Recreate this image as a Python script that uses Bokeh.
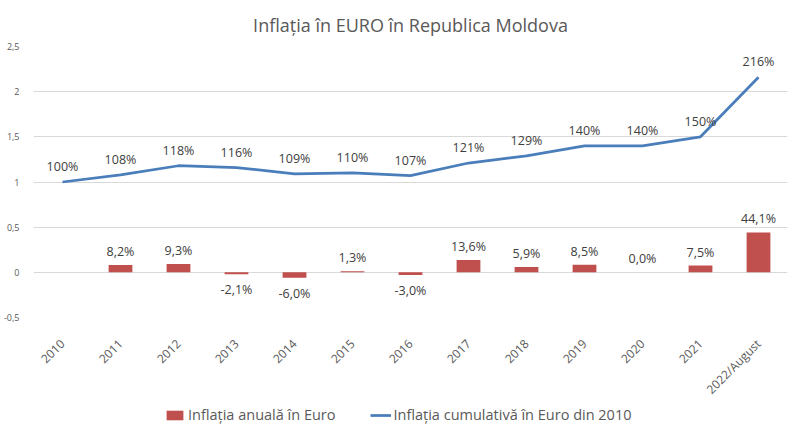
import math
from bokeh.plotting import figure
from bokeh.layouts import column
from bokeh.models import (ColumnDataSource, FactorRange, Range1d, LabelSet, Legend, LegendItem,
                          Title, FixedTicker, CustomJSTickFormatter)
from bokeh.core.properties import value
from bokeh.embed import file_html
from bokeh.resources import INLINE

# ---- data ----
years = ["2010", "2011", "2012", "2013", "2014", "2015", "2016", "2017", "2018",
         "2019", "2020", "2021", "2022/August"]
annual_years = years[1:]
annual = [0.082, 0.093, -0.021, -0.060, 0.013, -0.030, 0.136, 0.059, 0.085, 0.000, 0.075, 0.441]
annual_labels = ["8,2%", "9,3%", "-2,1%", "-6,0%", "1,3%", "-3,0%", "13,6%", "5,9%", "8,5%",
                 "0,0%", "7,5%", "44,1%"]
cumulative = [1.00, 1.08, 1.18, 1.16, 1.09, 1.10, 1.07, 1.21, 1.29, 1.40, 1.40, 1.50, 2.16]
cumulative_labels = ["100%", "108%", "118%", "116%", "109%", "110%", "107%", "121%", "129%",
                     "140%", "140%", "150%", "216%"]
series_names = ["Inflația anuală în Euro", "Inflația cumulativă în Euro din 2010"]
y_ticks = [-0.5, 0, 0.5, 1, 1.5, 2, 2.5]

FONT = "Open Sans"
TXT = "#404040"
BAR = "#C0504D"
LINE = "#4A7EBB"
GRID = "#D9D9D9"

p = figure(frame_width=754, frame_height=271, x_range=FactorRange(*years, range_padding=0),
           y_range=Range1d(-0.5, 2.5), output_backend="svg", toolbar_location=None,
           min_border_left=33, min_border_right=13, min_border_top=10, min_border_bottom=0)
p.outline_line_color = None
p.background_fill_color = "white"

title = Title(text="Inflația în EURO în Republica Moldova", align="center",
              text_font=FONT, text_font_size="18px", text_font_style="normal",
              text_color="#595959", standoff=20)
p.add_layout(title, "above")

# bars
pos = [i for i, v in enumerate(annual) if v >= 0]
neg = [i for i, v in enumerate(annual) if v < 0]
bsrc = ColumnDataSource(dict(x=annual_years, top=annual))
bars = p.vbar(x="x", top="top", bottom=0, width=0.41, source=bsrc, fill_color=BAR, line_color=None)

psrc = ColumnDataSource(dict(x=[annual_years[i] for i in pos], y=[annual[i] for i in pos],
                             t=[annual_labels[i] for i in pos]))
nsrc = ColumnDataSource(dict(x=[annual_years[i] for i in neg], y=[annual[i] for i in neg],
                             t=[annual_labels[i] for i in neg]))
lab_kw = dict(text_align="center", text_font=value(FONT), text_font_size=value("12.5px"),
              text_color=TXT)
p.add_layout(LabelSet(x="x", y="y", text="t", source=psrc, y_offset=5,
                      text_baseline="bottom", **lab_kw))
p.add_layout(LabelSet(x="x", y="y", text="t", source=nsrc, y_offset=-7,
                      text_baseline="top", **lab_kw))

# line
lsrc = ColumnDataSource(dict(x=years, y=cumulative, t=cumulative_labels))
line = p.line(x="x", y="y", source=lsrc, line_color=LINE, line_width=2.75)
p.add_layout(LabelSet(x="x", y="y", text="t", source=lsrc, y_offset=7,
                      text_baseline="bottom", **lab_kw))

# axes
p.yaxis.ticker = FixedTicker(ticks=y_ticks)
p.yaxis.formatter = CustomJSTickFormatter(code="return tick.toString().replace('.', ',');")
p.yaxis.axis_line_color = None
p.yaxis.major_tick_line_color = None
p.yaxis.minor_tick_line_color = None
p.yaxis.major_label_text_font = FONT
p.yaxis.major_label_text_font_size = "9px"
p.yaxis.major_label_text_color = "#595959"
p.yaxis.major_label_standoff = 8

p.xaxis.axis_line_color = None
p.xaxis.major_tick_line_color = None
p.xaxis.major_label_orientation = math.pi / 4
p.xaxis.major_label_text_font = FONT
p.xaxis.major_label_text_font_size = "12px"
p.xaxis.major_label_text_color = "#595959"
p.xaxis.major_label_standoff = 18

p.xgrid.grid_line_color = None
p.ygrid.grid_line_color = GRID
p.ygrid.ticker = FixedTicker(ticks=y_ticks)

# legend figure (swatches drawn by off-view renderers of the same style)
lg = figure(width=800, height=24, x_range=Range1d(0, 1), y_range=Range1d(0, 1),
            output_backend="svg", toolbar_location=None, min_border=0)
lg.axis.visible = False
lg.grid.visible = False
lg.outline_line_color = None
db = lg.vbar(x=[-5], top=[-5], bottom=[-6], width=0.4, fill_color=BAR, line_color=None)
dl = lg.line(x=[-5, -4], y=[-5, -5], line_color=LINE, line_width=2.75)
legend = Legend(items=[LegendItem(label=series_names[0], renderers=[db]),
                       LegendItem(label=series_names[1], renderers=[dl])],
                orientation="horizontal", location=(131, 6), border_line_color=None,
                background_fill_alpha=0,
                label_text_font=FONT, label_text_font_size="14.5px", label_text_color="#595959",
                glyph_width=21, glyph_height=12, label_standoff=3, spacing=34, padding=0, margin=0)
lg.add_layout(legend)

open("out.html", "w").write(file_html(column(p, lg, spacing=0), INLINE))
